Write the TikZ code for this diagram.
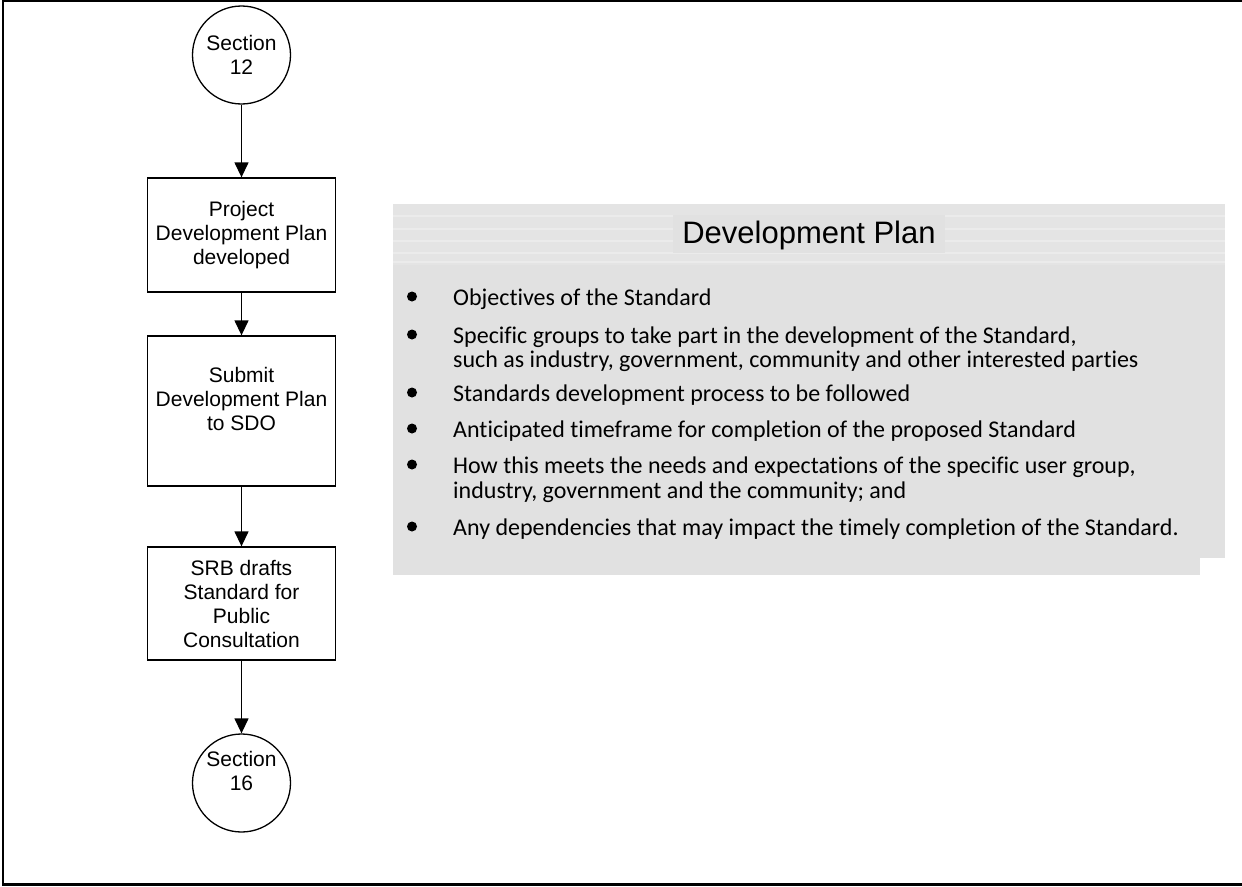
\documentclass[tikz,border=0pt]{standalone}
\usepackage{fontspec}
\setmainfont{Liberation Sans}
\newfontfamily\bodyfont[Ligatures=CommonOff]{Carlito}
\usetikzlibrary{arrows.meta}
\definecolor{panelgrey}{HTML}{E1E1E1}
\definecolor{headgrey}{HTML}{E4E4E4}
\definecolor{stripegrey}{HTML}{EBEBEB}
\begin{document}
\begin{tikzpicture}[x=1pt,y=-1pt,
  stepbox/.style={draw, line width=1.3pt, minimum width=188pt, align=center, font=\fontsize{21}{24}\selectfont, inner sep=0pt},
  secnode/.style={draw, circle, line width=1.3pt, minimum size=98pt, align=center, font=\fontsize{21}{24}\selectfont, inner sep=0pt},
  flow/.style={line width=1.3pt, -{Triangle[length=15pt,width=14pt]}},
  item/.style={anchor=base west, font=\bodyfont\fontsize{24}{24}\selectfont, inner sep=0pt},
  dot/.style={circle, fill, minimum size=10pt, inner sep=0pt},
  stripe/.style={stripegrey, line width=2.5pt}
]
\useasboundingbox (0,0) rectangle (1242,886);
\draw[line width=2.2pt] (1245,1) -- (3,1) -- (3,884.5) -- (1245,884.5);

% flow column
\node[secnode] (s12) at (241.5,55) {Section\\12};
\node[stepbox, minimum height=114pt] (b1) at (241.5,235) {Project\\Development Plan\\developed};
\node[stepbox, minimum height=150pt] (b2) at (241.5,411) {Submit\\Development Plan\\to SDO\\\mbox{}};
\node[stepbox, minimum height=113pt] (b3) at (241.5,603.5) {SRB drafts\\Standard for\\Public\\Consultation};
\node[secnode] (s16) at (241.5,783) {Section\\16\\\mbox{}};
\draw[flow] (s12) -- (b1);
\draw[flow] (b1) -- (b2);
\draw[flow] (b2) -- (b3);
\draw[flow] (b3) -- (s16);

% panel
\fill[headgrey] (393,204) rectangle (1225,265);
\foreach \yy in {216,229,241,253,262} \draw[stripe] (393,\yy) -- (1225,\yy);
\fill[panelgrey] (393,265) rectangle (1225,558);
\fill[panelgrey] (393,558) rectangle (1200,575);
\fill[panelgrey] (673,215) rectangle (945,253);
\node[font=\fontsize{31}{36}\selectfont, inner sep=0pt] (title) at (809,235) {Development Plan};

\node[dot] (d1) at (412,296.5) {};
\node[item] (t1) at (453,305) {Objectives of the Standard};
\node[dot] (d2) at (412,334.5) {};
\node[item] (t2a) at (453,343) {Specific groups to take part in the development of the Standard,};
\node[item] (t2b) at (453,367) {such as industry, government, community and other interested parties};
\node[dot] (d3) at (412,392.5) {};
\node[item] (t3) at (453,401) {Standards development process to be followed};
\node[dot] (d4) at (412,428.5) {};
\node[item] (t4) at (453,437) {Anticipated timeframe for completion of the proposed Standard};
\node[dot] (d5) at (412,464.5) {};
\node[item] (t5a) at (453,473) {How this meets the needs and expectations of the specific user group,};
\node[item] (t5b) at (453,498) {industry, government and the community; and};
\node[dot] (d6) at (412,526.5) {};
\node[item] (t6) at (453,535) {Any dependencies that may impact the timely completion of the Standard.};
\end{tikzpicture}
\end{document}
